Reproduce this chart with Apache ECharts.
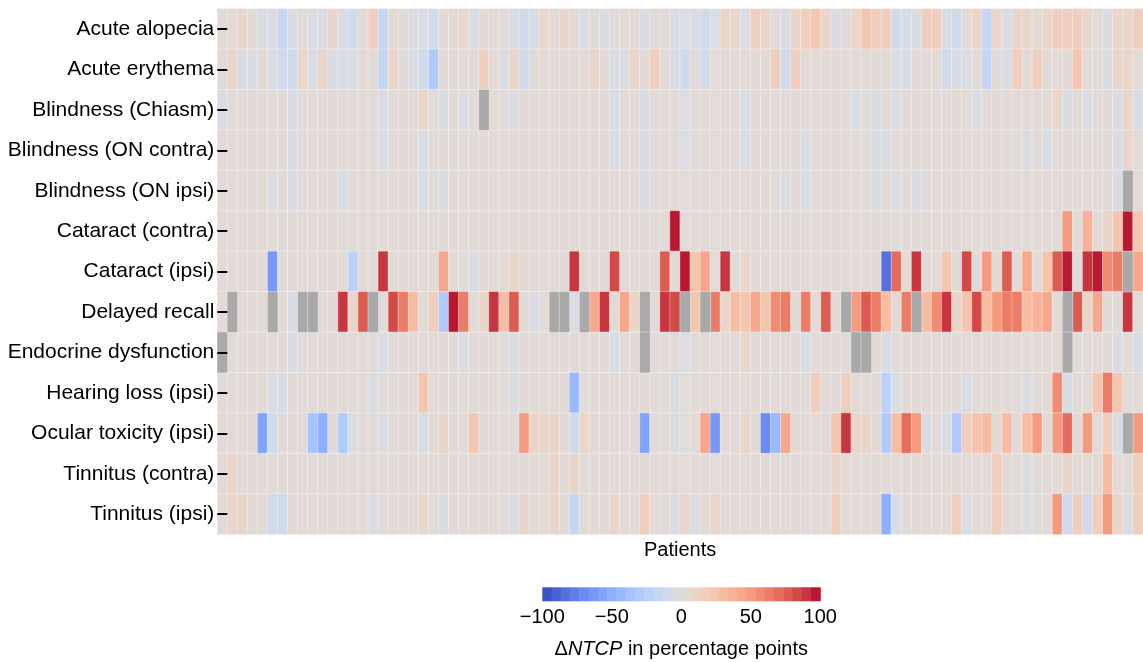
<!DOCTYPE html>
<html>
<head>
<meta charset="utf-8">
<script src="https://cdn.jsdelivr.net/npm/echarts@6/dist/echarts.min.js"></script>
<style>
  html, body { margin: 0; padding: 0; background: #fff; }
  #chart { width: 1143px; height: 662px; }
</style>
</head>
<body>
<div id="chart"></div>
<script>
// Toxicity endpoints (rows, top to bottom)
const endpoints = [
  'Acute alopecia', 'Acute erythema', 'Blindness (Chiasm)', 'Blindness (ON contra)',
  'Blindness (ON ipsi)', 'Cataract (contra)', 'Cataract (ipsi)', 'Delayed recall',
  'Endocrine dysfunction', 'Hearing loss (ipsi)', 'Ocular toxicity (ipsi)',
  'Tinnitus (contra)', 'Tinnitus (ipsi)'
];
const patientCount = 92;

// ΔNTCP per patient (percentage points); null = not evaluable
const acuteAlopecia = [
  2, 2, 10, 2, -3, -3, -17, -3, 2, -3, -3, 10, -3, -10, 2, 17, -17, 2, 2, -3, -3, -10, 2,
  2, 10, -3, 2, 2, 2, -3, -10, -3, 10, 2, 10, 2, -3, 2, -3, 2, 2, 2, -3, 2, 2, -3,
  -3, -3, -10, -3, 10, 10, -3, 17, 10, 2, -3, 10, 17, 23, 10, -3, 2, 10, 23, 17, 17, -10, -3,
  -3, 17, 17, -3, -10, 2, 10, -17, 10, -3, 10, 10, 2, 10, 17, 17, 17, 10, 2, -3, 10, 10, 17
];
const acuteErythema = [
  2, 10, -3, -3, 2, -3, -10, -10, 10, -3, 10, -3, -3, -3, 2, 2, -17, 10, 2, -3, -10, -30, 2,
  2, 2, 2, 17, 2, -3, 10, -10, 2, 2, 2, 2, 2, 2, 10, 2, -3, -3, 10, 2, 17, 2, -3,
  -10, 2, -10, 2, 2, 2, 2, 2, 2, 17, -10, 17, 2, 2, 2, 2, 2, 2, 2, 2, 2, -3, -3,
  2, 2, 2, -10, -3, -3, 2, -17, 2, -3, 17, 2, 17, 2, 2, 2, 23, 2, 2, -3, 10, 10, 2
];
const blindnessChiasm = [
  -3, 2, 2, 2, 2, 2, 2, -3, 2, 2, 2, 2, 2, 2, 2, 2, -3, 2, 2, 2, 10, 2, -3,
  2, -3, 2, null, 2, 2, -3, 2, 2, 2, 2, 2, 2, 2, 2, 2, -3, 2, 2, -3, 2, 2, 2,
  -3, 2, 2, 2, 2, 2, -3, 2, 2, 2, 2, 2, 2, 2, 2, 2, 2, -3, 2, -3, 2, -3, 2,
  2, 2, 2, 2, 2, 2, -3, 2, 2, 2, 2, 2, 2, 2, 10, -3, 2, -3, 2, 2, -3, 10, -3
];
const blindnessOnContra = [
  2, 2, 2, 2, 2, 2, 2, -3, 2, 2, 2, 2, 2, 2, 2, 2, -3, 2, 2, 2, -3, 2, 2,
  2, 2, 2, 2, 2, 2, 2, 2, 2, 2, 2, 2, 2, 2, 2, 2, -3, 2, 2, -3, 2, 2, 2,
  -3, 2, 2, 2, 2, 2, -3, 2, 2, 2, 2, 2, -3, 2, 2, 2, 2, 2, 2, -3, -3, 2, 2,
  2, 2, 2, 2, 2, 2, 2, 2, 2, 2, 2, -3, 2, -3, 2, 2, 2, 2, 2, 2, -3, 10, 2
];
const blindnessOnIpsi = [
  2, 2, 2, 2, 2, -3, 2, -3, 2, 2, 2, 2, -3, 2, 2, 2, 2, 2, 2, 2, -3, 2, -3,
  2, 2, 2, 2, 2, 2, 2, 2, 2, 2, 2, 2, 2, 2, 2, 2, 2, 2, 2, -3, 2, 2, 2,
  2, 2, 2, 2, 2, 2, 2, 2, 2, 2, -3, 2, -3, 2, 2, 2, 2, 2, 2, -3, 2, -3, 2,
  -3, 2, 2, 2, 2, 2, 2, 2, 2, 2, 2, 2, 2, 2, 2, 2, 2, 2, 2, 2, -3, null, 2
];
const cataractContra = [
  2, 2, 2, 2, 2, 2, 2, 2, 2, 2, 2, 2, 2, 2, 2, 2, 2, 2, 2, 2, 2, 2, 2,
  2, 2, 2, 2, 2, 2, 2, 2, 2, 2, 2, 2, 2, 2, 2, 2, 2, 2, 2, 2, 2, 2, 97,
  2, 2, 2, 2, 2, 2, 2, 2, 2, 2, 2, 2, 2, 2, 2, 2, 2, 2, 2, 2, 2, 2, 2,
  2, 2, 2, 2, 2, 2, 2, 2, 2, 2, 2, 2, 2, 2, 2, 50, 2, 37, 2, 10, 23, 97, 23
];
const cataractIpsi = [
  2, 2, 2, 2, 2, -63, 2, 2, 2, 2, 2, 2, 2, -23, 2, 2, 90, 2, 2, 2, 2, 2, 43,
  2, 2, -3, 2, 2, 2, 10, 2, 2, 2, 2, 2, 90, 2, 2, 2, 83, 2, 2, 2, 2, 77, 2,
  97, 23, 43, 2, 90, 2, 10, 2, 2, 2, 2, 2, 2, 2, 2, 2, 2, 2, 2, 2, -83, 70, 2,
  90, 2, 2, 23, 2, 83, 2, 50, 2, 77, 2, 43, 2, 23, 77, 97, 2, 90, 97, 57, 63, null, 43
];
const delayedRecall = [
  2, null, 2, 2, 2, null, 2, -3, null, null, 2, 2, 90, 10, 77, null, 2, 83, 63, 30, 2, 17, -30,
  97, 63, 2, 10, 90, 30, 77, 2, -3, 2, null, null, -3, null, 43, 90, 2, 43, 10, null, 2, 90, 83,
  null, 23, null, 63, 10, 30, 23, 43, 23, 57, 63, 2, 63, 2, 77, 2, null, 50, 77, 63, 30, 2, 63,
  null, 30, 57, 90, 10, 23, 83, 30, 50, 63, 63, 30, 37, 43, 2, null, 77, 10, 43, 2, 2, 90, 2
];
const endocrineDysfunction = [
  null, 2, 2, 2, 2, 2, 2, -3, 2, 2, 2, 2, 2, 2, 2, 2, -3, 2, 2, 2, 2, 2, 2,
  2, -3, 2, 2, 2, 2, -3, 2, 2, 2, 2, 2, 2, 2, 2, 2, -3, 2, 2, null, 2, 2, 2,
  -3, 2, 2, 2, 2, 2, 10, 2, 2, 2, 2, 2, -3, 2, 2, 2, 2, null, null, 2, -3, 2, 2,
  2, 2, 2, 2, 2, 2, 2, 2, 2, 2, 2, 2, 2, 2, 2, null, 2, 2, 2, 2, -3, 2, -3
];
const hearingLossIpsi = [
  2, 2, 2, 2, 2, -3, -3, 2, 2, 2, 2, 2, 2, 2, 2, -3, 2, 2, 2, 2, 23, 2, 2,
  2, 2, 2, 2, 2, 2, -3, 2, 2, 2, 2, 2, -43, 2, 2, 2, 2, 2, 2, 2, 2, 2, -3,
  2, 2, 2, 2, 2, 2, 2, 2, 2, 2, 2, 2, 2, 17, 2, 2, 17, 2, 2, 2, -23, -3, 2,
  2, 2, 2, 2, 2, -3, 2, 2, 2, 2, 2, -3, 2, 2, 57, -3, 2, 2, 23, 63, 23, 2, 2
];
const ocularToxicityIpsi = [
  2, 2, 2, 2, -57, -10, 2, 2, 2, -37, -50, 2, -30, -3, 2, 2, -3, 2, 2, 2, -3, 2, 10,
  2, 2, 23, 2, 2, 2, 2, 50, 10, 10, 10, 2, -10, 10, 2, 2, 2, 2, 2, -57, 2, 2, -3,
  2, 2, 43, -63, 2, 2, 10, 2, -70, -43, 43, 2, 2, 2, 2, 23, 90, 10, 10, 2, -30, 30, 70,
  50, -3, 2, -3, -30, 17, 23, 30, 2, 30, 2, 30, 50, 2, 50, 70, 2, 50, 2, 17, -3, null, 50
];
const tinnitusContra = [
  2, 10, 2, 2, 2, 2, 2, 2, 2, 2, 2, 2, 2, 2, 2, 2, 2, 2, 2, 2, 2, 2, 2,
  2, 2, 2, 2, 2, 2, 2, 2, 2, 2, 10, 2, 10, 2, 2, 2, 2, 2, 2, 2, 2, 2, 2,
  2, 2, 2, 2, 2, 2, 2, 2, 2, 2, 2, 2, 2, 2, 2, 10, 2, 2, 2, 2, 2, 2, 2,
  2, 2, 2, 2, 2, 2, 2, 2, 17, 2, 2, -3, 2, 2, 2, 10, 2, 2, 2, 30, 2, 2, 17
];
const tinnitusIpsi = [
  2, 10, 10, 2, 2, -10, -10, 2, 2, 2, 2, 2, 2, 2, 2, -3, 2, 2, 2, 2, 10, 2, -3,
  2, 2, 2, 2, 2, 2, -3, 10, 2, 2, 10, 2, -17, 2, 2, 2, 10, 2, 2, 17, 2, 2, -3,
  10, -3, 2, 10, 2, 2, 2, 2, 2, 2, 2, 2, 2, 2, 2, 17, 2, 2, 2, 2, -50, -3, 2,
  2, 2, 2, 2, 17, -3, 2, 2, 17, 2, 2, -3, 2, 2, 50, -10, 17, -10, 17, 50, 10, -3, 17
];

// Colour scale: diverging, -100 .. 100 in 30 discrete bands
const scaleMin = -100;
const scaleMax = 100;
const bandCount = 30;
const colorbarTicks = [-100, -50, 0, 50, 100];

const rows = [
  acuteAlopecia, acuteErythema, blindnessChiasm, blindnessOnContra, blindnessOnIpsi,
  cataractContra, cataractIpsi, delayedRecall, endocrineDysfunction, hearingLossIpsi,
  ocularToxicityIpsi, tinnitusContra, tinnitusIpsi
];

// coolwarm control points (RGB 0-255)
const coolwarm = [
  [59,76,192],[68,90,204],[77,104,215],[87,117,225],[98,130,234],[108,142,241],
  [119,154,247],[130,165,251],[141,176,254],[152,185,255],[163,194,255],[174,201,253],
  [184,208,249],[194,213,244],[204,217,238],[213,219,230],[221,221,221],[229,216,209],
  [236,211,197],[241,204,186],[245,196,173],[247,187,161],[247,177,149],[247,166,138],
  [244,154,126],[241,141,115],[236,127,104],[229,112,94],[222,96,84],[213,80,75],
  [203,62,67],[192,40,60],[180,4,38]
];
function coolwarmAt(t) {
  const pos = Math.min(Math.max(t, 0), 1) * (coolwarm.length - 1);
  const i = Math.min(Math.floor(pos), coolwarm.length - 2);
  const f = pos - i;
  const a = coolwarm[i], b = coolwarm[i + 1];
  const c = a.map((v, k) => Math.round(v + (b[k] - v) * f));
  return 'rgb(' + c.join(',') + ')';
}

const bandWidth = (scaleMax - scaleMin) / bandCount;
const pieces = [];
for (let i = 0; i < bandCount; i++) {
  const lo = scaleMin + i * bandWidth;
  const hi = lo + bandWidth;
  const piece = { gte: lo, color: coolwarmAt((i + 0.5) / bandCount) };
  if (i === bandCount - 1) piece.lte = hi; else piece.lt = hi;
  pieces.push(piece);
}

const patients = Array.from({ length: patientCount }, (_, i) => String(i + 1));
const cells = [];
const missing = [];
rows.forEach((row, r) => {
  row.forEach((v, c) => {
    if (v === null) missing.push([c, r, 0]);
    else cells.push([c, r, v]);
  });
});
const colorbarBands = [];
for (let i = 0; i < bandCount; i++) {
  const mid = scaleMin + (i + 0.5) * bandWidth;
  colorbarBands.push([mid, 0.5, mid]);
}

const FONT = '"Liberation Sans", Arial, Helvetica, sans-serif';
const cellBorder = { borderColor: 'rgba(255,255,255,0.45)', borderWidth: 0.8 };

const chart = echarts.init(document.getElementById('chart'), null, { renderer: 'canvas' });
chart.setOption({
  backgroundColor: '#fff',
  animation: false,
  textStyle: { fontFamily: FONT },
  grid: [
    { left: 217.3, top: 8.8, width: 928.3, height: 525.6 },
    { left: 542.3, top: 587.3, width: 278, height: 14 }
  ],
  xAxis: [
    {
      gridIndex: 0, type: 'category', data: patients,
      axisLine: { show: false }, axisTick: { show: false }, axisLabel: { show: false },
      splitLine: { show: false },
      name: 'Patients', nameLocation: 'middle', nameGap: 16,
      nameTextStyle: { fontSize: 20, color: '#000', fontFamily: FONT, verticalAlign: 'middle' }
    },
    {
      gridIndex: 1, type: 'value', min: scaleMin, max: scaleMax, interval: 50,
      axisLine: { show: false }, axisTick: { show: false }, splitLine: { show: false },
      axisLabel: {
        fontSize: 20, color: '#000', fontFamily: FONT, margin: 6,
        formatter: v => (colorbarTicks.includes(v) ? (v < 0 ? '\u2212' + (-v) : String(v)) : '')
      },
      name: '{n|\u0394}{i|NTCP}{n| in percentage points}',
      nameLocation: 'middle', nameGap: 48,
      nameTextStyle: {
        fontSize: 20, color: '#000', fontFamily: FONT, verticalAlign: 'middle',
        rich: {
          n: { fontSize: 20, color: '#000', fontFamily: FONT },
          i: { fontSize: 20, color: '#000', fontFamily: FONT, fontStyle: 'italic' }
        }
      }
    }
  ],
  yAxis: [
    {
      gridIndex: 0, type: 'category', data: endpoints, inverse: true, z: 10,
      axisLine: { show: false },
      axisTick: { show: true, inside: true, alignWithLabel: true, length: 10,
                  lineStyle: { color: '#000', width: 2 } },
      axisLabel: { fontSize: 21, color: '#000', fontFamily: FONT, margin: 3 },
      splitLine: { show: false }
    },
    { gridIndex: 1, type: 'value', min: 0, max: 1, show: false }
  ],
  visualMap: {
    type: 'piecewise', show: false, dimension: 2, seriesIndex: [0, 2], pieces: pieces
  },
  series: [
    {
      type: 'heatmap', xAxisIndex: 0, yAxisIndex: 0, data: cells,
      itemStyle: cellBorder, emphasis: { disabled: true }, progressive: 0
    },
    {
      type: 'heatmap', xAxisIndex: 0, yAxisIndex: 0, data: missing,
      itemStyle: Object.assign({ color: '#a9a9a9' }, cellBorder),
      emphasis: { disabled: true }, progressive: 0
    },
    {
      type: 'custom', xAxisIndex: 1, yAxisIndex: 1, data: colorbarBands,
      encode: { x: 0, y: 1 },
      renderItem: function (params, api) {
        const v = api.value(0);
        const p0 = api.coord([v - bandWidth / 2, 1]);
        const p1 = api.coord([v + bandWidth / 2, 0]);
        return {
          type: 'rect',
          shape: { x: p0[0], y: p0[1], width: p1[0] - p0[0] + 0.5, height: p1[1] - p0[1] },
          style: { fill: api.visual('color') }
        };
      }
    }
  ]
});
</script>
</body>
</html>
